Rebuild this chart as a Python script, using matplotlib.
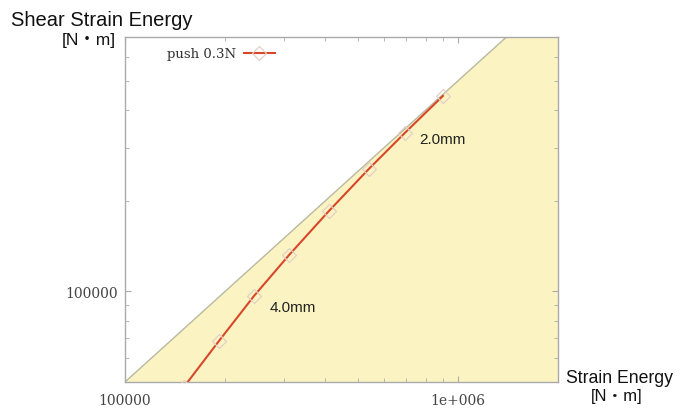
import matplotlib
matplotlib.use("Agg")
import matplotlib.pyplot as plt
import numpy as np
from matplotlib.ticker import FixedLocator, LogLocator, NullFormatter

# data
strain_energy = [1.50e5, 1.915e5, 2.44e5, 3.11e5, 4.10e5, 5.40e5, 6.93e5, 9.02e5]
shear_energy = [4.80e4, 6.84e4, 9.65e4, 1.32e5, 1.85e5, 2.55e5, 3.36e5, 4.46e5]
series_label = "push 0.3N"
limit_ratio = 0.5
x_range = (1e5, 2e6)
y_range = (5e4, 7e5)
x_ticks = [1e5, 1e6]
x_tick_labels = ["100000", "1e+006"]
y_ticks = [1e5]
y_tick_labels = ["100000"]
notes = [("2.0mm", 9.0e5, 3.2e5), ("4.0mm", 3.19e5, 8.87e4)]
unit = "[N・m]"

label_fonts = ["Liberation Sans", "Noto Sans CJK JP", "DejaVu Sans"]

fig = plt.figure(figsize=(6.86, 4.10), dpi=100)
ax = fig.add_axes([125 / 686, 1 - 383 / 410, 433 / 686, 345 / 410])
ax.set_xscale("log")
ax.set_yscale("log")
ax.set_xlim(*x_range)
ax.set_ylim(*y_range)

# region below the limit line
xs = np.geomspace(x_range[0], x_range[1], 200)
ax.fill_between(xs, y_range[0] * 0.5, xs * limit_ratio, color="#fbf4c2", lw=0, zorder=1)
ax.plot(xs, xs * limit_ratio, color="#b9b8a0", lw=1.0, zorder=2)

ax.plot(strain_energy, shear_energy, color="#d9472b", lw=1.5, marker="D", ms=7,
        mfc="none", mec="#e2cfc6", mew=0.9, label=series_label, zorder=3)

for text, x, y in notes:
    ax.text(x, y, text, ha="center", va="center", fontsize=11,
            family=label_fonts, color="#222222", zorder=4)

for side in ax.spines.values():
    side.set_color("#aaaaaa")
    side.set_linewidth(1.0)

ax.xaxis.set_major_locator(FixedLocator(x_ticks))
ax.set_xticklabels(x_tick_labels)
ax.yaxis.set_major_locator(FixedLocator(y_ticks))
ax.set_yticklabels(y_tick_labels)
ax.xaxis.set_minor_locator(LogLocator(base=10, subs=np.arange(2, 10)))
ax.yaxis.set_minor_locator(LogLocator(base=10, subs=np.arange(2, 10)))
ax.xaxis.set_minor_formatter(NullFormatter())
ax.yaxis.set_minor_formatter(NullFormatter())
ax.tick_params(which="both", direction="in", top=True, right=True, color="#aaaaaa",
               labelsize=10, labelcolor="#444444")
ax.tick_params(which="major", length=4)
ax.tick_params(which="minor", length=3)
ax.tick_params(axis="x", pad=8)
ax.tick_params(axis="y", pad=5)
for lab in ax.get_xticklabels() + ax.get_yticklabels():
    lab.set_family("DejaVu Serif")

leg = ax.legend(loc="upper left", bbox_to_anchor=(0.07, 1.005), frameon=False,
                markerfirst=False, handlelength=2.3, handletextpad=0.6,
                prop={"family": "DejaVu Serif", "size": 9.5})
for t in leg.get_texts():
    t.set_color("#333333")

fig.text(102 / 686, 1 - 21 / 410, "Shear Strain Energy", ha="center", va="center",
         fontsize=14.5, family=label_fonts, color="#111111")
fig.text(89 / 686, 1 - 40 / 410, unit, ha="center", va="center",
         fontsize=12.5, family=label_fonts, color="#111111")
fig.text(619 / 686, 1 - 379 / 410, "Strain Energy", ha="center", va="center",
         fontsize=12.7, family=label_fonts, color="#111111")
fig.text(617 / 686, 1 - 397 / 410, unit, ha="center", va="center",
         fontsize=12, family=label_fonts, color="#111111")

fig.savefig("out.png", dpi=100)
